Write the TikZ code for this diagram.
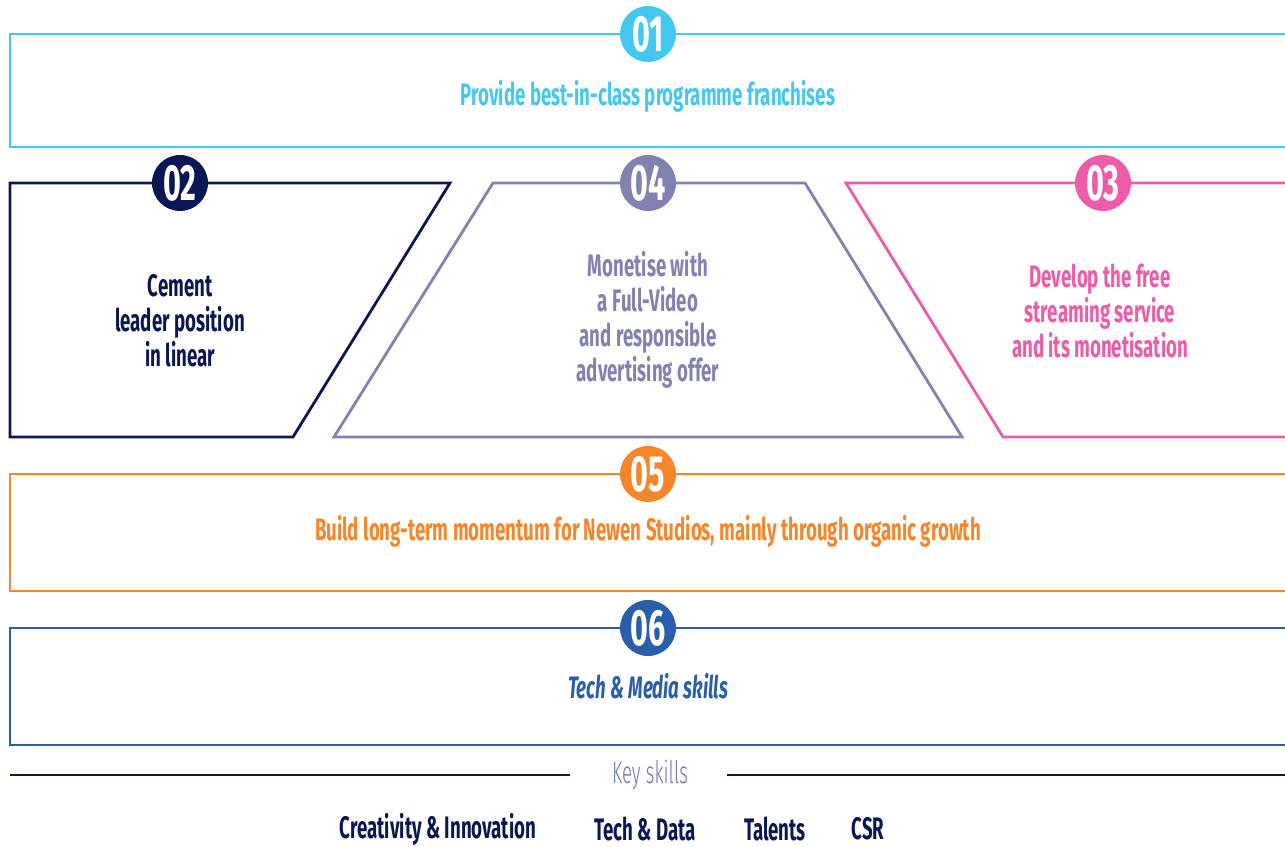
\documentclass[tikz,border=0pt]{standalone}
\usepackage{fontspec}
\setmainfont{Fira Sans}[FakeStretch=0.6]
\newfontfamily\thinfont{Fira Sans Light}[FakeStretch=0.6]
\usepackage{tikz}
\usetikzlibrary{positioning}
\definecolor{skycol}{HTML}{45C8F0}
\definecolor{navycol}{HTML}{0B1752}
\definecolor{lilaccol}{HTML}{8282B0}
\definecolor{keycol}{HTML}{6F78AE}
\definecolor{pinkcol}{HTML}{EE5BA8}
\definecolor{orangecol}{HTML}{F5862A}
\definecolor{bluecol}{HTML}{2A5DAA}
\tikzset{
  frameline/.style={line width=1.6pt},
  numdot/.style={circle, minimum size=1.12cm, inner sep=0pt, text=white,
                 font=\bfseries\fontsize{29}{29}\selectfont},
  pillartxt/.style={font=\bfseries\fontsize{17.7}{19.9}\selectfont, align=center},
  skilltxt/.style={font=\bfseries\fontsize{17.7}{20}\selectfont, text=navycol},
}

\begin{document}
\begin{tikzpicture}[x=0.02cm,y=-0.02cm]
\useasboundingbox (0,0) rectangle (1285,847);
\clip (0,0) rectangle (1285,847);
% frames
\draw[frameline, skycol] (1300,34) -- (10,34) -- (10,147) -- (1300,147);
\draw[frameline, navycol] (10,183) -- (450,183) -- (293,437) -- (10,437) -- cycle;
\draw[frameline, lilaccol] (493,183) -- (805,183) -- (962,437) -- (334,437) -- cycle;
\draw[frameline, pinkcol] (1300,183) -- (846,183) -- (1003,437) -- (1300,437);
\draw[frameline, orangecol] (1300,474) -- (10,474) -- (10,591) -- (1300,591);
\draw[frameline, bluecol] (1300,628) -- (10,628) -- (10,745) -- (1300,745);
% numbers
\node[numdot, fill=skycol] (n1) at (648,34) {01};
\node[numdot, fill=navycol] (n2) at (180,183) {02};
\node[numdot, fill=lilaccol] (n4) at (648,183) {04};
\node[numdot, fill=pinkcol] (n3) at (1103,183) {03};
\node[numdot, fill=orangecol] (n5) at (648,474) {05};
\node[numdot, fill=bluecol] (n6) at (648,628) {06};
% texts
\node[pillartxt, text=skycol] (t1) at (648,96) {Provide best-in-class programme franchises};
\node[pillartxt, text=navycol] (t2) at (180,321) {Cement\\leader position\\in linear};
\node[pillartxt, text=lilaccol] (t4) at (648,320) {Monetise with\\a Full-Video\\and responsible\\advertising offer};
\node[pillartxt, text=pinkcol] (t3) at (1100,311) {Develop the free\\streaming service\\and its monetisation};
\node[pillartxt, text=orangecol] (t5) at (648,531) {Build long-term momentum for Newen Studios, mainly through organic growth};
\node[pillartxt, text=bluecol, font=\bfseries\itshape\fontsize{17.7}{20}\selectfont] (t6) at (648,686) {Tech \& Media skills};
% key skills
\node[font=\thinfont\fontsize{17.7}{20}\selectfont, text=keycol] (key) at (650,775) {Key skills};
\draw[frameline, navycol] (10,775) -- (570,775);
\draw[frameline, navycol] (727,775) -- (1300,775);
\node[skilltxt] (s1) at (438,829) {Creativity \& Innovation};
\node[skilltxt] (s2) at (645,829) {Tech \& Data};
\node[skilltxt] (s3) at (775,829) {Talents};
\node[skilltxt] (s4) at (868,829) {CSR};
\end{tikzpicture}
\end{document}
